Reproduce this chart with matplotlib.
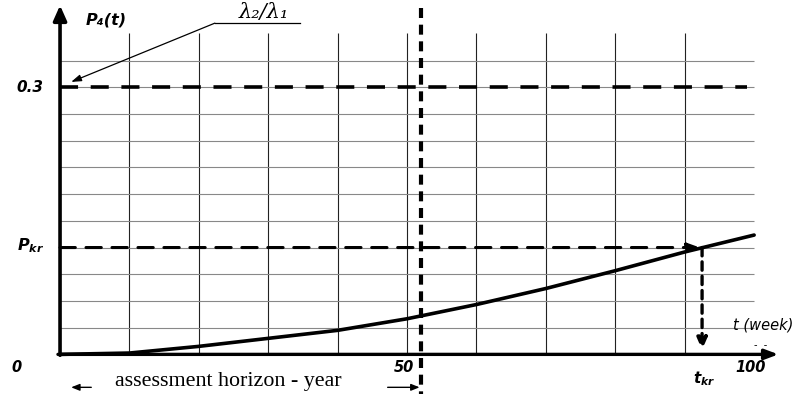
import matplotlib
matplotlib.use("Agg")
import numpy as np
from matplotlib import pyplot as plt

# values
t_weeks = [0, 10, 20, 30, 40, 50, 60, 70, 80, 90, 100]
p4_vals = [0.0, 0.0015, 0.009, 0.018, 0.027, 0.040, 0.056, 0.074, 0.094, 0.115, 0.134]
x_grid = [10, 20, 30, 40, 50, 60, 70, 80, 90]
y_grid = [0.03, 0.06, 0.09, 0.12, 0.15, 0.18, 0.21, 0.24, 0.27, 0.30, 0.33]
x_ticks = [0, 50, 100]
x_tick_labels = ["0", "50", "100"]
p_max = 0.3          # lambda2 / lambda1
p_kr = 0.12
t_kr = 92.5
horizon = 52         # one year in weeks

plt.rcParams["mathtext.fontset"] = "custom"
plt.rcParams["mathtext.it"] = "DejaVu Sans:italic:bold"
plt.rcParams["mathtext.rm"] = "DejaVu Sans:bold"

fig = plt.figure(figsize=(7.93, 3.94), dpi=100)
ax = fig.add_axes([0, 0, 1, 1])
ax.set_xlim(-8.65, 105.6)
ax.set_ylim(-0.0445, 0.398)
ax.axis("off")

# grid
ax.vlines(x_grid, 0, 0.361, color="#222222", lw=0.8, zorder=1)
ax.hlines(y_grid, 0, 100, color="#888888", lw=0.8, zorder=1)

# axes with arrows
ax.annotate("", xy=(0, 0.392), xytext=(0, -0.001),
            arrowprops=dict(arrowstyle="-|>,head_length=0.9,head_width=0.4",
                            lw=2.6, color="black", shrinkA=0, shrinkB=0))
ax.annotate("", xy=(103.5, 0), xytext=(-0.3, 0),
            arrowprops=dict(arrowstyle="-|>,head_length=0.8,head_width=0.3",
                            lw=2.4, color="black", shrinkA=0, shrinkB=0))

# limit line 0.3
ax.plot([0, 99], [p_max, p_max], color="black", lw=2.6, dashes=(5, 3.5),
        zorder=3, solid_capstyle="butt")

# critical level arrows
ax.annotate("", xy=(t_kr - 0.3, p_kr), xytext=(0, p_kr),
            arrowprops=dict(arrowstyle="-|>,head_length=0.7,head_width=0.25",
                            lw=2.2, color="black", ls=(0, (5, 3.5)),
                            shrinkA=0, shrinkB=0), zorder=3)
ax.annotate("", xy=(t_kr, 0.005), xytext=(t_kr, p_kr),
            arrowprops=dict(arrowstyle="-|>,head_length=0.7,head_width=0.3",
                            lw=2.4, color="black", ls=(0, (2.5, 1.8)),
                            shrinkA=0, shrinkB=0), zorder=3)

# one-year horizon line
ax.plot([horizon, horizon], [0.389, -0.046], color="black", lw=3.0,
        dashes=(2.4, 1.6), zorder=4, clip_on=False)

# P4(t) curve
ax.plot(t_weeks, p4_vals, color="black", lw=2.6, zorder=5,
        solid_capstyle="round")

# texts
bi = dict(fontweight="bold", fontstyle="italic", color="black")
ax.text(6.6, 0.375, "P₄(t)", ha="center", va="center", fontsize=11.5, **bi)
ax.text(-4.3, p_max, "0.3", ha="center", va="center", fontsize=11, **bi)
ax.text(-4.3, p_kr + 0.002, r"$P_{kr}$", ha="center", va="center", fontsize=11.5)
for xt, lab in zip(x_ticks, x_tick_labels):
    xx = -6.2 if xt == 0 else xt - 0.5
    ax.text(xx, -0.015, lab, ha="center", va="center", fontsize=10.5, **bi)
ax.text(t_kr + 0.3, -0.027, r"$t_{kr}$", ha="center", va="center", fontsize=11)
ax.text(101.3, 0.033, "t (week)", ha="center", va="center", fontsize=10.5,
        fontstyle="italic")
ax.text(101.0, 0.011, "-  -", ha="center", va="center", fontsize=7)

ax.text(29.3, 0.384, "λ₂/λ₁", ha="center", va="center", fontsize=15,
        fontstyle="italic", family="DejaVu Serif")
ax.plot([22.3, 34.6], [0.372, 0.372], color="black", lw=0.9)
ax.annotate("", xy=(1.6, 0.306), xytext=(22.3, 0.372),
            arrowprops=dict(arrowstyle="-|>,head_length=0.6,head_width=0.2",
                            lw=0.9, color="black", shrinkA=0, shrinkB=0))

ax.text(24.2, -0.031, "assessment horizon - year", ha="center", va="center",
        fontsize=15.8, family="Liberation Serif")
ax.annotate("", xy=(1.6, -0.037), xytext=(4.5, -0.037),
            arrowprops=dict(arrowstyle="-|>,head_length=0.5,head_width=0.2",
                            lw=1.0, color="black", shrinkA=0, shrinkB=0))
ax.annotate("", xy=(51.8, -0.037), xytext=(47.2, -0.037),
            arrowprops=dict(arrowstyle="-|>,head_length=0.5,head_width=0.2",
                            lw=1.0, color="black", shrinkA=0, shrinkB=0))

fig.savefig("out.png", dpi=100)
